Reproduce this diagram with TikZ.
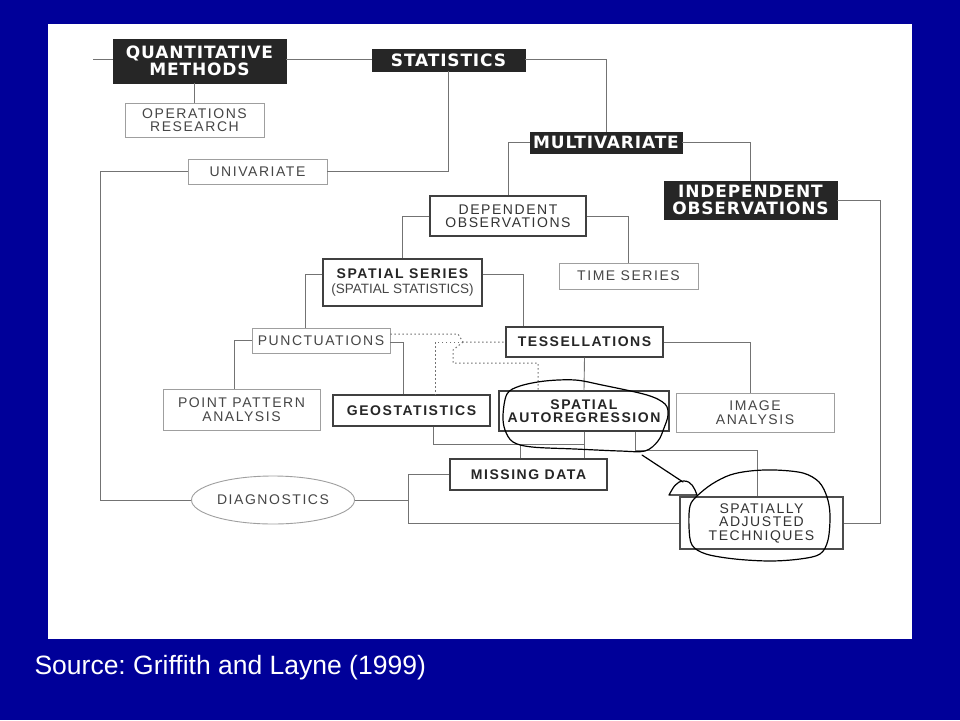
\documentclass[tikz,border=0pt]{standalone}
\usepackage{fontspec}
\setmainfont{Liberation Sans}
\newfontfamily\boxfont{Liberation Sans}[LetterSpace=11]
\newfontfamily\heavyfont{DejaVu Sans}[LetterSpace=5]
\usepackage{tikz}
\usetikzlibrary{positioning, calc, shapes.geometric}
\definecolor{slideblue}{RGB}{0,0,153}
\definecolor{inkgray}{RGB}{115,115,115}
\definecolor{textgray}{RGB}{70,70,70}
\frenchspacing
\tikzset{
    link/.style={draw=inkgray, line width=0.9pt}, % plain connectors
    dots/.style={draw=inkgray, line width=1pt, dash pattern=on 1.5pt off 2.5pt}, % dotted connectors
    plain/.style={
            draw=gray!75,
            line width=0.9pt,
            fill=white,
            inner sep=0pt, % size comes from minimum width/height
            align=center,
            text=textgray,
            font=\boxfont\fontsize{14}{13.5}\selectfont
        },
    strong/.style={
            plain,
            draw=black!75,
            line width=1.4pt,
            text=black!85,
            font=\boxfont\bfseries\fontsize{14}{13.5}\selectfont
        },
    blackbox/.style={
            fill=black!85,
            draw=black!85,
            text=white,
            inner sep=0pt,
            align=center,
            font=\heavyfont\bfseries\fontsize{17}{16.5}\selectfont
        },
    pen/.style={draw=black, line width=1.2pt, line join=round, line cap=round}, % hand drawn marks
}

\begin{document}
\begin{tikzpicture}[x=1pt, y=-1pt]
    \useasboundingbox (0,0) rectangle (960,720);
    \fill[slideblue] (0,0) rectangle (960,720);
    \fill[white] (48,24) rectangle (912,639);

    % nodes
    \node[blackbox, minimum width=173pt, minimum height=44pt] (qm) at (199.5,61) {QUANTITATIVE\\METHODS};
    \node[blackbox, minimum width=153pt, minimum height=22pt] (stats) at (448.5,60) {STATISTICS};
    \node[plain, minimum width=139pt, minimum height=34pt] (ops) at (194.5,120) {OPERATIONS\\RESEARCH};
    \node[plain, minimum width=139pt, minimum height=25pt] (uni) at (257.5,171.5) {UNIVARIATE};
    \node[blackbox, minimum width=152pt, minimum height=21pt] (multi) at (606,142.5) {MULTIVARIATE};
    \node[blackbox, minimum width=173pt, minimum height=38pt] (indep) at (750.5,200) {INDEPENDENT\\OBSERVATIONS};
    \node[plain, draw=black!75, line width=1.2pt, text=black!80, minimum width=156pt, minimum height=40pt] (dep) at (508,216) {DEPENDENT\\OBSERVATIONS};
    \node[plain, minimum width=139pt, minimum height=26pt] (time) at (628.5,276) {TIME SERIES};
    \node[strong, minimum width=159pt, minimum height=47pt] (ser) at (402.5,282.5) {SPATIAL SERIES\\[2pt]{\normalfont\fontsize{13.5}{14}\selectfont\color{textgray}(SPATIAL STATISTICS)}};
    \node[plain, minimum width=138pt, minimum height=25pt] (punc) at (321,340.5) {PUNCTUATIONS};
    \node[strong, minimum width=157pt, minimum height=30pt] (tess) at (584.5,342) {TESSELLATIONS};
    \node[plain, minimum width=157pt, minimum height=41pt] (ppa) at (241.5,409.5) {POINT PATTERN\\ANALYSIS};
    \node[strong, minimum width=157pt, minimum height=31pt] (geo) at (411.5,410.5) {GEOSTATISTICS};
    \node[strong, minimum width=170pt, minimum height=40pt] (sar) at (584,411) {SPATIAL\\AUTOREGRESSION};
    \node[plain, minimum width=158pt, minimum height=39pt] (img) at (755,412.5) {IMAGE\\ANALYSIS};
    \node[strong, minimum width=157pt, minimum height=31pt] (miss) at (528.5,474.5) {MISSING DATA};
    \node[plain, ellipse, minimum width=163pt, minimum height=48pt] (diag) at (273,500) {DIAGNOSTICS};
    \node[plain, draw=black!70, line width=1.2pt, text=black!80, minimum width=163pt, minimum height=52pt] (adj) at (761.5,523) {SPATIALLY\\ADJUSTED\\TECHNIQUES};

    \node[anchor=base west, text=white, font=\fontsize{26.5}{30}\selectfont] (src) at (31,674) {Source: Griffith and Layne (1999)};

    % corners of the outer connectors
    \coordinate (lstub) at (93,59);
    \coordinate (lcorner) at (100,500);
    \coordinate (rcorner) at (880,523);
    \coordinate (bcorner) at (408,523);
    \coordinate (mjoin) at (584,444);
    \coordinate (ajoin) at (635,450);
    \coordinate (dj1) at (458,334);
    \coordinate (dj2) at (463,342);
    \coordinate (dj3) at (453,350);
    \coordinate (dj4) at (453,363);

    % edges
    \draw[link] (lstub) -- (lstub -| qm.west);
    \draw[link] (qm.east |- lstub) -- (stats.west |- lstub);
    \draw[link] (stats.east |- lstub) -| (multi.north);
    \draw[link] (ops.north) -- (ops.north |- qm.south);
    \draw[link] (stats.south) |- (uni.east);
    \draw[link] (uni.west) -| (lcorner) -- (diag.west);
    \draw[link] (multi.west) -| (dep.north);
    \draw[link] (multi.east) -| (indep.north);
    \draw[link] (indep.east) -| (rcorner) -- (adj.east);
    \draw[link] (dep.east) -| (time.north);
    \draw[link] (dep.west) -| (ser.north);
    \draw[link] ([yshift=8pt]ser.west) -| ([xshift=-16pt]punc.north);
    \draw[link] ([yshift=8pt]ser.east) -| ([xshift=-61pt]tess.north);
    \draw[link] (punc.west) -| ([xshift=-7.5pt]ppa.north);
    \draw[link] ([yshift=-1.5pt]punc.east) -| ([xshift=-8.5pt]geo.north);
    \draw[link] (tess.east) -| ([xshift=-5pt]img.north);
    \draw[link] (tess.south) -- (sar.north);
    \draw[link] ([xshift=21.5pt]geo.south) |- (mjoin);
    \draw[link] (sar.south) -- (miss.north -| sar.south);
    \draw[link] ([xshift=-8.5pt]miss.north) -- ([xshift=-8.5pt]miss.north |- mjoin);
    \draw[link] (sar.south -| ajoin) -- (ajoin) -| ([xshift=-4.5pt]adj.north);
    \draw[link] (miss.west) -| (bcorner) -- (adj.west);
    \draw[link] (diag.east) -- (diag.east -| bcorner);

    \draw[dots] ([yshift=6.5pt]punc.east) -- (dj1) -- (dj2) -- (tess.west);
    \draw[dots] (dj2) -| ([xshift=23.5pt]geo.north);
    \draw[dots] (dj2) -- (dj3) -- (dj4) -| ([xshift=-46pt]sar.north);

    % hand drawn marks
    \draw[pen] plot[smooth cycle, tension=0.55] coordinates {(507,394) (520,386) (545,381) (575,380) (602,385) (647,395) (665,404) (668,415) (664,428) (658,441) (645,451) (620,451) (575,449) (532,447) (513,442) (505,430) (503,415)};
    \draw[pen] plot[smooth cycle, tension=0.55] coordinates {(697,496) (712,484) (730,475) (750,471) (775,470) (803,473) (819,482) (827,497) (830,515) (828,540) (820,554) (800,559) (770,561) (735,559) (706,554) (692,545) (689,527) (690,506)};
    \coordinate (penA) at (642,455);
    \coordinate (penB) at (683,482);
    \draw[pen] (penA) -- (penB);
    \draw[pen] (669,495) to[out=60, in=180] (684,481) to[out=0, in=110] (697,495) -- cycle;
\end{tikzpicture}
\end{document}
